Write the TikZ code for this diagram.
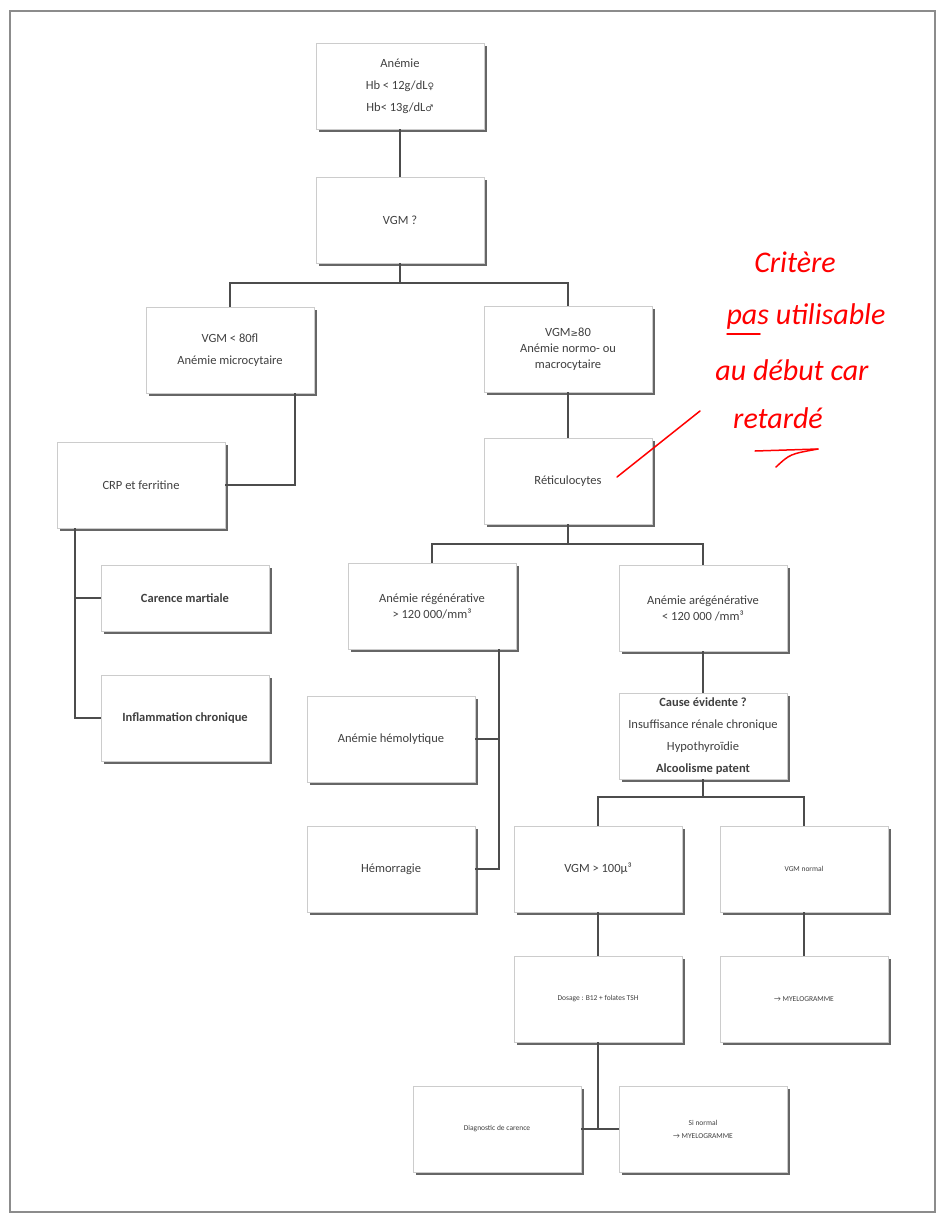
\documentclass[tikz,border=0pt]{standalone}
\usepackage{fontspec}
\setmainfont{Carlito}
\newfontfamily\symbfont{DejaVu Sans}
\usepackage{tikz}
\usetikzlibrary{shadows}

\begin{document}
\begin{tikzpicture}[x=1pt,y=-1pt,
  box/.style={draw=black!20,fill=white,minimum width=168pt,minimum height=86pt,inner sep=3pt,align=center,
    font=\fontsize{12.5}{22}\selectfont,text=black!75,
    drop shadow={shadow xshift=2.5pt,shadow yshift=-2.5pt,fill=black!60,opacity=1}},
  tiny/.style={font=\fontsize{7.5}{13}\selectfont},
  conn/.style={draw=black!70,line width=1.6pt},
  note/.style={text=red,font=\fontsize{30}{30}\selectfont\itshape,inner sep=0pt},
  redmark/.style={draw=red,line width=1.5pt,line cap=round}]
  \useasboundingbox (0,0) rectangle (942,1218);
  \draw[black!45,line width=1.2pt] (10,11) rectangle (935,1212);

  % colonne centrale
  \node[box] (anemie) at (400,86) {Anémie\\Hb < 12g/dL{\symbfont\small ♀}\\Hb< 13g/dL{\symbfont\small ♂}};
  \node[box] (vgm) at (400,220) {VGM ?};
  \node[box] (micro) at (230,350) {VGM < 80fl\\Anémie microcytaire};
  \node[box] (macro) at (568,349) {VGM{\symbfont\small ≥}80\\[-6pt]Anémie normo- ou\\[-6pt]macrocytaire};
  \node[box] (crp) at (141,485) {CRP et ferritine};
  \node[box] (retic) at (568,481) {Réticulocytes};

  % branche gauche
  \node[box,minimum height=66pt,font=\fontsize{12.5}{22}\selectfont\bfseries] (carence) at (185,598) {Carence martiale};
  \node[box,font=\fontsize{12.5}{22}\selectfont\bfseries] (inflam) at (185,718) {Inflammation chronique};

  % reticulocytes
  \node[box] (regen) at (432,606) {Anémie régénérative\\[-6pt]> 120 000/mm³};
  \node[box] (areg) at (703,608) {Anémie arégénérative\\[-6pt]< 120 000 /mm³};
  \node[box] (hemol) at (391,739) {Anémie hémolytique};
  \node[box] (hemor) at (391,869) {Hémorragie};
  \node[box] (cause) at (703,736) {\textbf{Cause évidente ?}\\Insuffisance rénale chronique\\Hypothyroïdie\\\textbf{Alcoolisme patent}};

  % bas
  \node[box] (vgmhaut) at (598,869) {VGM > 100µ³};
  \node[box,tiny] (vgmnorm) at (804,869) {VGM normal};
  \node[box,tiny] (dosage) at (598,999) {Dosage : B12 + folates TSH};
  \node[box,tiny] (myelo) at (804,999) {→ MYELOGRAMME};
  \node[box,tiny] (cardiag) at (497,1129) {Diagnostic de carence};
  \node[box,tiny] (sinorm) at (703,1129) {Si normal\\→ MYELOGRAMME};

  \draw[conn] (anemie) -- (vgm);
  \draw[conn] (vgm.south) -- ++(0,20) -| (micro.north);
  \draw[conn] (vgm.south) -- ++(0,20) -| (macro.north);
  \draw[conn] ([xshift=-19pt]micro.south east) |- (crp.east);
  \draw[conn] (macro) -- (retic);
  \draw[conn] ([xshift=18pt]crp.south west) |- (carence.west);
  \draw[conn] ([xshift=18pt]crp.south west) |- (inflam.west);
  \draw[conn] (retic.south) -- ++(0,20) -| (regen.north);
  \draw[conn] (retic.south) -- ++(0,20) -| (areg.north);
  \draw[conn] ([xshift=-17pt]regen.south east) |- (hemol.east);
  \draw[conn] ([xshift=-17pt]regen.south east) |- (hemor.east);
  \draw[conn] (areg) -- (cause);
  \draw[conn] (cause.south) -- ++(0,18) -| (vgmhaut.north);
  \draw[conn] (cause.south) -- ++(0,18) -| (vgmnorm.north);
  \draw[conn] (vgmhaut) -- (dosage);
  \draw[conn] (vgmnorm) -- (myelo);
  \draw[conn] (dosage.south) |- (cardiag.east);
  \draw[conn] (dosage.south) |- (sinorm.west);

  % annotation manuscrite
  \node[note] (crit1) at (795,262) {Critère};
  \node[note] (crit2) at (806,316) {pas utilisable};
  \node[note] (crit3) at (792,370) {au début car};
  \node[note] (crit4) at (778,418) {retardé};
  \coordinate (notetip) at (700,411);
  \draw[redmark] ([xshift=49pt,yshift=4pt]retic.center) -- (notetip);
  \draw[redmark] (727,334) -- (760,334);
  \draw[redmark] (755,451) -- (818,449);
  \draw[redmark] (776,467) .. controls (790,454) .. (818,449);
\end{tikzpicture}
\end{document}
